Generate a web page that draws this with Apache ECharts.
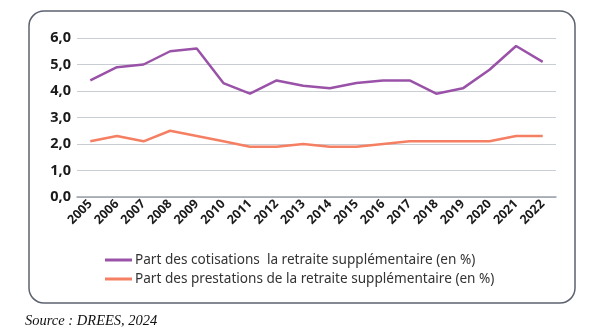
<!DOCTYPE html>
<html>
<head>
<meta charset="utf-8">
<script src="https://cdn.jsdelivr.net/npm/echarts@6/dist/echarts.min.js"></script>
<style>
  html, body { margin: 0; padding: 0; background: #fff; }
  #chart { width: 600px; height: 332px; }
</style>
</head>
<body>
<div id="chart"></div>
<script>
// données
const annees = ['2005', '2006', '2007', '2008', '2009', '2010', '2011', '2012', '2013',
  '2014', '2015', '2016', '2017', '2018', '2019', '2020', '2021', '2022'];
const cotisations = [4.4, 4.9, 5.0, 5.5, 5.6, 4.3, 3.9, 4.4, 4.2, 4.1, 4.3, 4.4, 4.4, 3.9, 4.1, 4.8, 5.7, 5.1];
const prestations = [2.1, 2.3, 2.1, 2.5, 2.3, 2.1, 1.9, 1.9, 2.0, 1.9, 1.9, 2.0, 2.1, 2.1, 2.1, 2.1, 2.3, 2.3];
const nomCotisations = 'Part des cotisations  la retraite supplémentaire (en %)';
const nomPrestations = 'Part des prestations de la retraite supplémentaire (en %)';

const chart = echarts.init(document.getElementById('chart'));
const font = '"Noto Sans", "Open Sans", sans-serif';

chart.setOption({
  animation: false,
  textStyle: { fontFamily: font },
  grid: { left: 77, right: 44, top: 38, bottom: 135 },
  graphic: [
    {
      type: 'rect',
      shape: { x: 29, y: 11, width: 546, height: 292, r: 15 },
      style: { fill: 'none', stroke: '#5c6270', lineWidth: 1.5 },
      z: -1
    },
    {
      type: 'text',
      left: 25,
      top: 314,
      style: {
        text: 'Source : DREES, 2024',
        font: 'italic 14.5px "Liberation Serif", "DejaVu Serif", serif',
        fill: '#111'
      }
    }
  ],
  legend: {
    orient: 'vertical',
    left: 100,
    top: 248,
    itemWidth: 27,
    itemHeight: 3,
    itemGap: 5,
    icon: 'rect',
    textStyle: { fontSize: 13.6, color: '#333', fontFamily: font, padding: [0, 0, 0, -2] },
    data: [nomCotisations, nomPrestations]
  },
  xAxis: {
    type: 'category',
    data: annees,
    boundaryGap: true,
    axisLine: { lineStyle: { color: '#9ba1ab', width: 1.5 } },
    axisTick: { show: false },
    axisLabel: {
      rotate: 45,
      interval: 0,
      fontSize: 12.5,
      fontWeight: 'bold',
      color: '#1a1a1a',
      margin: 5
    }
  },
  yAxis: {
    type: 'value',
    min: 0,
    max: 6,
    interval: 1,
    axisLine: { show: false },
    axisTick: { show: false },
    splitLine: { lineStyle: { color: '#c9cdd4', width: 1.2 } },
    axisLabel: {
      fontSize: 14.5,
      fontWeight: 'bold',
      color: '#1a1a1a',
      margin: 6,
      formatter: v => v.toFixed(1).replace('.', ',')
    }
  },
  series: [
    {
      name: nomCotisations,
      type: 'line',
      data: cotisations,
      symbol: 'none',
      itemStyle: { color: '#9a52a8' },
      lineStyle: { color: '#9a52a8', width: 2.5 }
    },
    {
      name: nomPrestations,
      type: 'line',
      data: prestations,
      symbol: 'none',
      itemStyle: { color: '#f47f62' },
      lineStyle: { color: '#f47f62', width: 2.5 }
    }
  ]
});
</script>
</body>
</html>
